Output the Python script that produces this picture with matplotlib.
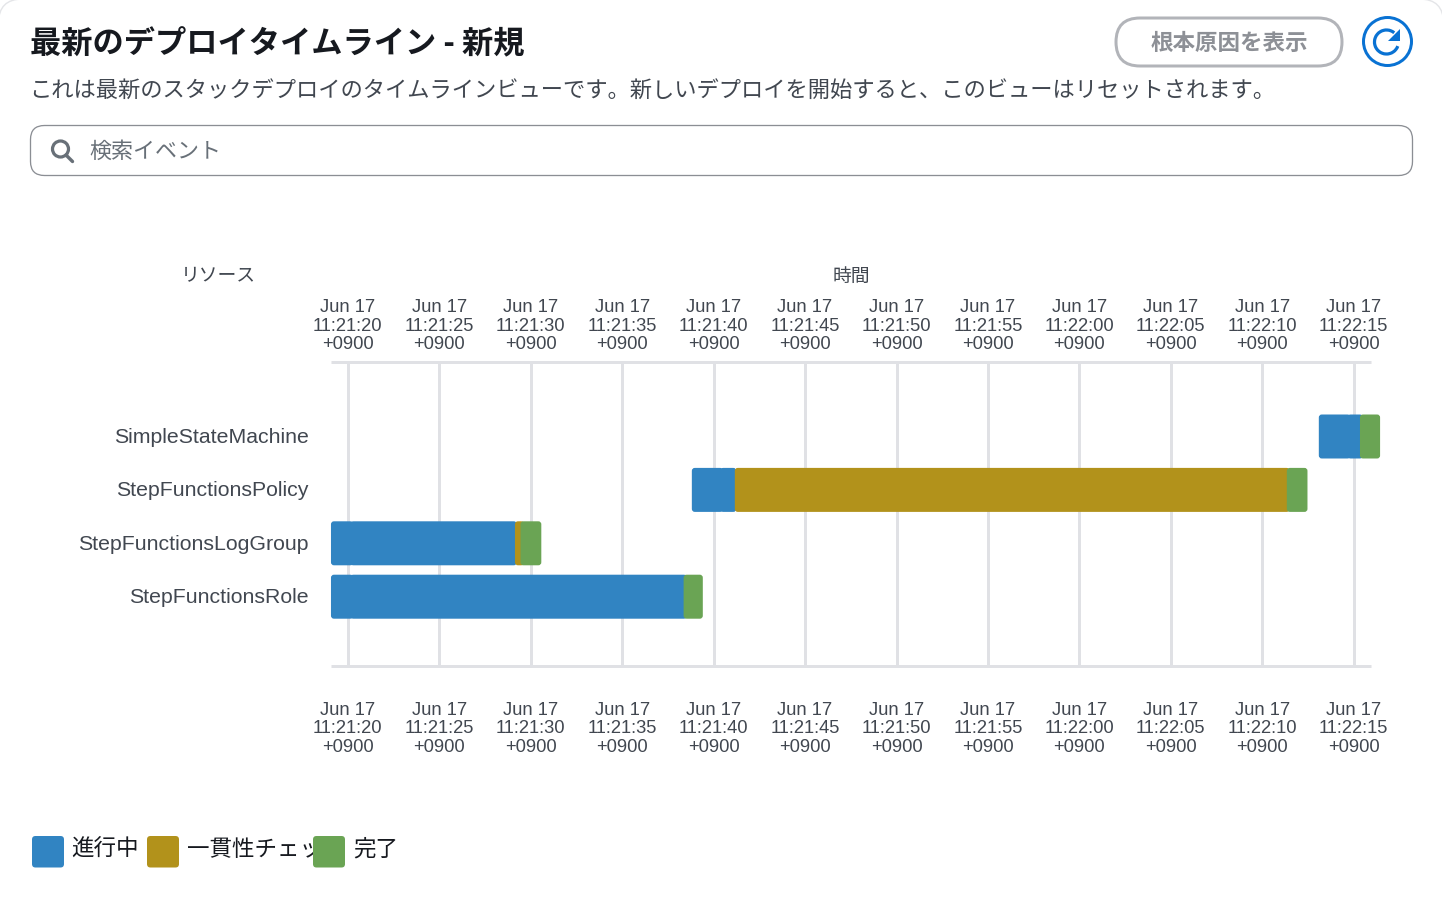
import matplotlib
matplotlib.use("Agg")
import matplotlib.pyplot as plt
from matplotlib.patches import FancyBboxPatch, Circle, Arc, Polygon
from matplotlib.transforms import Bbox, ScaledTranslation

plt.rcParams['font.family'] = ['Liberation Sans', 'Noto Sans CJK JP', 'DejaVu Sans']
JP = ['Noto Sans CJK JP', 'DejaVu Sans']

# ---- data ----
resources = ['SimpleStateMachine', 'StepFunctionsPolicy', 'StepFunctionsLogGroup', 'StepFunctionsRole']
# seconds after 11:21:20
tick_seconds = [0, 5, 10, 15, 20, 25, 30, 35, 40, 45, 50, 55]
tick_times = ['11:21:20', '11:21:25', '11:21:30', '11:21:35', '11:21:40', '11:21:45',
              '11:21:50', '11:21:55', '11:22:00', '11:22:05', '11:22:10', '11:22:15']
status_names = ['進行中', '一貫性チェック中', '完了']
status_colors = ['#3184C2', '#B2921B', '#6AA454']
seg_row =    [3, 3, 3,   2, 2, 2, 2,   1, 1, 1, 1,   0, 0, 0]
seg_status = [0, 0, 2,   0, 0, 1, 2,   0, 0, 1, 2,   0, 0, 2]
seg_start =  [-0.92, 0.14, 18.36,   -0.92, 0.14, 9.14, 9.44,   18.81, 20.36, 21.16, 51.34,   53.09, 54.66, 55.34]
seg_end =    [0.3, 18.54, 19.41,     0.3, 9.24, 9.64, 10.58,    20.52, 21.24, 51.49, 52.47,   54.82, 55.49, 56.44]

# ---- figure ----
W, H = 1442, 924
fig = plt.figure(figsize=(W / 100, H / 100), dpi=100, facecolor='white')
PX = 0.72  # points per pixel

ui = fig.add_axes([0, 0, 1, 1], zorder=0)
ui.set_xlim(0, W); ui.set_ylim(H, 0); ui.axis('off')

# card corners
ui.add_patch(FancyBboxPatch((-1.5, -1), W + 3, H + 60, boxstyle='round,pad=0,rounding_size=24',
                            fc='white', ec='#e4e5e8', lw=1.0))

# heading
ui.text(30, 44.5, '最新のデプロイタイムライン - 新規', family=JP, fontsize=31.25 * PX, fontweight='bold',
        color='#16191f', ha='left', va='center')
ui.text(29, 91, 'これは最新のスタックデプロイのタイムラインビューです。新しいデプロイを開始すると、このビューはリセットされます。',
        family=JP, fontsize=22.27 * PX, color='#414750', ha='left', va='center')

# root-cause button
ui.add_patch(FancyBboxPatch((1116, 18), 226, 48, boxstyle='round,pad=0,rounding_size=24',
                            fc='white', ec='#b2b4b9', lw=3 * PX))
ui.text(1229, 43.5, '根本原因を表示', family=JP, fontsize=22.5 * PX, fontweight='bold',
        color='#8d9096', ha='center', va='center')

# refresh button
ui.add_patch(Circle((1387.5, 41.5), 24, fc='white', ec='#0972d3', lw=3 * PX))
ui.add_patch(Arc((1386.5, 42), 24, 24, theta1=-340, theta2=-50, ec='#0972d3', lw=3.2 * PX))
ui.add_patch(Polygon([[1399.5, 29], [1399.5, 40.5], [1388, 40.5]], closed=True, fc='#0972d3', ec='none'))

# search box
ui.add_patch(FancyBboxPatch((30.5, 125.5), 1382, 50, boxstyle='round,pad=0,rounding_size=14',
                            fc='white', ec='#8b8e94', lw=1.3 * PX))
ui.add_patch(Circle((60.5, 149), 8, fc='none', ec='#687078', lw=3.2 * PX))
ui.plot([66, 72.5], [155, 161.5], color='#687078', lw=3.4 * PX, solid_capstyle='round')
ui.text(89, 152, '検索イベント', family=JP, fontsize=22 * PX, color='#687078',
        ha='left', va='center', style='italic')

# column headers
ui.text(218, 276, 'リソース', family=JP, fontsize=18.8 * PX, color='#414750', ha='center', va='center')
ui.text(851, 276, '時間', family=JP, fontsize=18.8 * PX, color='#414750', ha='center', va='center')

# ---- chart ----
x0, x1, y0, y1 = 331, 1371, 362, 666
ax = fig.add_axes([x0 / W, 1 - y1 / H, (x1 - x0) / W, (y1 - y0) / H], zorder=1)
ax.patch.set_alpha(0)
px_per_s = 91.45 / 5
px_per_row = 53.4
origin_px = 347.8
ax.set_xlim((x0 - origin_px) / px_per_s, (x1 - origin_px) / px_per_s)
ax.set_ylim((y1 - 436.5) / px_per_row, (y0 - 436.5) / px_per_row)

GRID = '#e0e1e5'
for s in ('left', 'right'):
    ax.spines[s].set_visible(False)
for s in ('top', 'bottom'):
    ax.spines[s].set_color(GRID)
    ax.spines[s].set_linewidth(3 * PX)
    ax.spines[s].set_capstyle('butt')
ax.set_axisbelow(True)
ax.grid(axis='x', color=GRID, lw=3 * PX)
ax.grid(axis='y', visible=False)

labels = ['Jun 17\n%s\n+0900' % t for t in tick_times]
ax.set_xticks(tick_seconds)
ax.set_xticklabels(labels, fontsize=18.4 * PX, color='#414750', linespacing=1.1, multialignment='center')
ax.tick_params(axis='x', length=0, pad=36 * PX)

top = ax.secondary_xaxis('top')
top.set_xticks(tick_seconds)
top.set_xticklabels(labels, fontsize=18.4 * PX, color='#414750', linespacing=1.1, multialignment='center')
top.tick_params(axis='x', length=0, pad=9 * PX)
top.spines['top'].set_visible(False)

ax.set_yticks(range(len(resources)))
ax.set_yticklabels(resources, fontsize=21.3 * PX, color='#414750')
ax.tick_params(axis='y', length=0, pad=22.5 * PX)
up = ScaledTranslation(0, 1 * PX / 72, fig.dpi_scale_trans)
for t in ax.get_yticklabels():
    t.set_transform(t.get_transform() + up)

bar_h = 44 / px_per_row
radius_s = 3 / px_per_s
aspect = px_per_s / px_per_row
for r, st, a, b in zip(seg_row, seg_status, seg_start, seg_end):
    ax.add_patch(FancyBboxPatch((a, r - bar_h / 2), b - a, bar_h,
                                boxstyle=f'round,pad=0,rounding_size={min(radius_s, (b - a) / 2)}',
                                mutation_aspect=aspect, fc=status_colors[st], ec='none',
                                zorder=3, clip_on=False))

# ---- legend ----
sw_x = [32, 147, 313]
txt_x = [71, 187, 353]
for i, (name, col) in enumerate(zip(status_names, status_colors)):
    ui.add_patch(FancyBboxPatch((sw_x[i], 836), 32, 31.5, boxstyle='round,pad=0,rounding_size=3.5',
                                fc=col, ec='none', zorder=5))
    t = ui.text(txt_x[i], 849.5, name, family=JP, fontsize=22.5 * PX, color='#16191f',
                ha='left', va='center', zorder=4)
    if i == 1:
        t.set_clip_box(Bbox([[txt_x[i], 0], [313, H]]))
        t.set_clip_on(True)

fig.savefig('out.png', dpi=100, facecolor='white')
